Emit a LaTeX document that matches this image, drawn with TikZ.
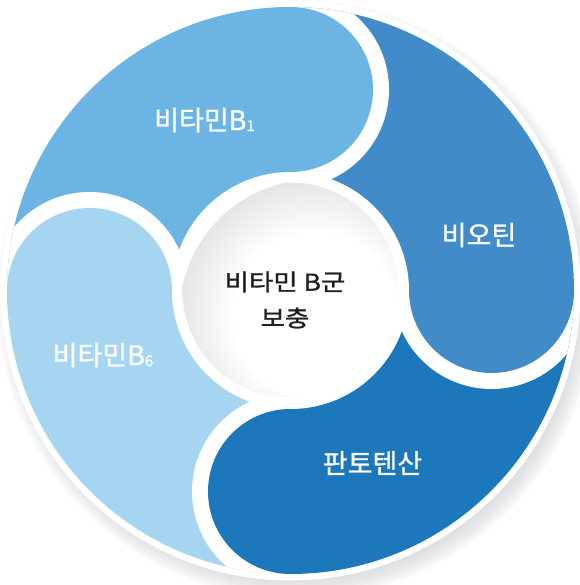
\documentclass[tikz,border=0pt]{standalone}
\usepackage{fontspec}
\newfontfamily\kr[FakeBold=1.0]{Noto Sans CJK KR}
\newfontfamily\krc[FakeBold=1.2, FakeStretch=1.15]{Noto Sans CJK KR}
\definecolor{cBone}{RGB}{108,180,227}
\definecolor{cBio}{RGB}{66,139,201}
\definecolor{cPan}{RGB}{28,119,187}
\definecolor{cBsix}{RGB}{165,213,241}
\definecolor{shadowgray}{RGB}{205,207,211}
\definecolor{rimgray}{RGB}{228,229,231}
\definecolor{txtdark}{RGB}{35,31,32}
\pgfdeclareradialshading{innerdisk}{\pgfpoint{0bp}{0bp}}{color(0bp)=(white); color(15bp)=(white); color(25bp)=(rimgray); color(50bp)=(rimgray)}
\newcommand{\subdig}[1]{{\fontsize{15}{15}\selectfont\raisebox{-1pt}{#1}}}
\tikzset{
  seglabel/.style={text=white, font=\kr\fontsize{27}{27}\selectfont, inner sep=0pt},
  centerlabel/.style={text=txtdark, font=\krc\fontsize{23}{36}\selectfont, align=center, inner sep=0pt}
}
\begin{document}
\begin{tikzpicture}[x=1pt,y=1pt]
\useasboundingbox (0,0) rectangle (579,585);
\coordinate (C) at (290.5,294.5);
% soft outer shadow, mostly towards the lower right
\foreach \i in {0,...,29} {
  \fill[shadowgray, opacity=0.035] ([shift={(6,-9)}]C) circle ({280+0.7*\i});
}
\fill[white] (C) circle (290);
% four swirl segments
\begin{scope}
  \clip (C) circle (283.5);
  \fill[cBio]  (C) -- ++(0:300)   arc (0:90:300)    -- cycle;
  \fill[cBone] (C) -- ++(90:300)  arc (90:180:300)  -- cycle;
  \fill[cBsix] (C) -- ++(180:300) arc (180:270:300) -- cycle;
  \fill[cPan]  (C) -- ++(270:300) arc (270:360:300) -- cycle;
  \foreach \t/\c in {0/cBio, 90/cBone, 180/cBsix, 270/cPan} {
    \begin{scope}[shift={(C)}, rotate=\t]
      \fill[white] (102.5,0) arc (180:360:98.5) -- cycle;
      \fill[\c] (201,0) circle (82.5);
    \end{scope}
  }
\end{scope}
% centre disk
\fill[white] (C) circle (118.5);
\begin{scope}
  \clip (C) circle (108);
  \shade[shading=innerdisk] ([shift={(24,-24)}]C) circle (135);
\end{scope}
% labels
\node[seglabel] (b1)  at (204.5,465) {비타민B\subdig{1}};
\node[seglabel] (bio) at (479,350)   {비오틴};
\node[seglabel] (b6)  at (103,230)   {비타민B\subdig{6}};
\node[seglabel] (pan) at (372.5,122) {판토텐산};
\node[centerlabel] (ctr) at (285,285) {비타민 B군\\보충};
\end{tikzpicture}
\end{document}
